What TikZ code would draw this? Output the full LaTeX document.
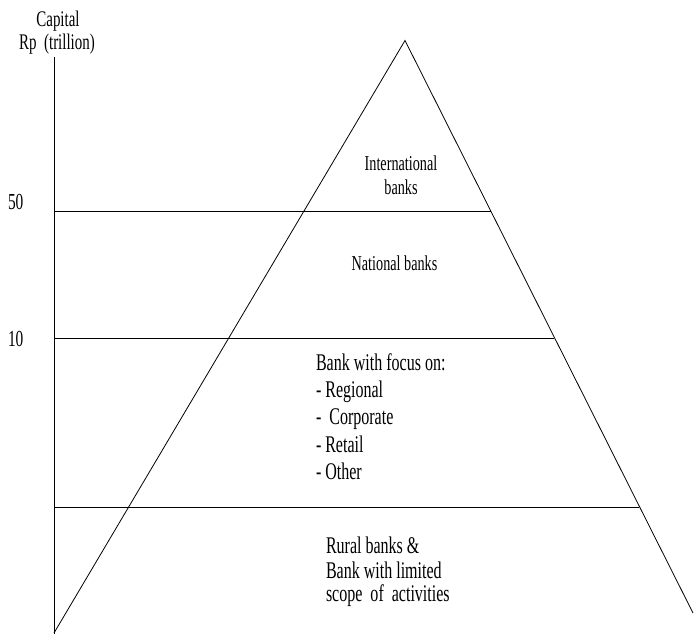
\documentclass[tikz,border=0pt]{standalone}
\usepackage{fontspec}
\newfontfamily\tnr[FakeStretch=0.67]{Liberation Serif}
\begin{document}
\begin{tikzpicture}[x=1bp,y=-1bp,
  lbl/.style={inner sep=0pt,outer sep=0pt},
  axislbl/.style={lbl,font=\tnr\fontsize{22.4}{24}\selectfont},
  toplbl/.style={lbl,font=\tnr\fontsize{21.3}{24}\selectfont},
  lowlbl/.style={lbl,font=\tnr\fontsize{24}{26}\selectfont},
  numlbl/.style={lbl,font=\tnr\fontsize{23}{24}\selectfont},
  thinline/.style={line width=0.8bp,draw=black},
  thickline/.style={line width=1.4bp,draw=black}]
\useasboundingbox (0,0) rectangle (694,634);
% key points
\coordinate (axtop) at (54,57);
\coordinate (axbot) at (54,634);
\coordinate (apex) at (405,40.5);
\coordinate (bl) at (54,633);
\coordinate (br) at (693,613);
\coordinate (l50) at (54,211.5);
\coordinate (r50) at (490.5,211.5);
\coordinate (l10) at (54,338);
\coordinate (r10) at (553.8,338);
\coordinate (l0) at (54,507.5);
\coordinate (r0) at (638.5,507.5);
% axis and pyramid
\draw[thinline] (axtop) -- (axbot);
\draw[thinline] (bl) -- (apex) -- (br);
\draw[thinline] (l50) -- (r50);
\draw[thinline] (l10) -- (r10);
\draw[thickline] (l0) -- (r0);
% axis labels
\node[axislbl,anchor=base] (cap) at (58,26.7) {Capital};
\node[axislbl,anchor=base] (rp) at (57,50) {Rp\ \ (trillion)};
\node[numlbl,anchor=base west] (n50) at (8,209.5) {50};
\node[numlbl,anchor=base west] (n10) at (8,346.5) {10};
% tier labels
\node[toplbl,anchor=base] (intl1) at (401,170.7) {International};
\node[toplbl,anchor=base] (intl2) at (401,195) {banks};
\node[toplbl,anchor=base] (natl) at (394.5,270.7) {National banks};
\node[lowlbl,anchor=base west] (f1) at (316,370) {Bank with focus on:};
\node[lowlbl,anchor=base west] (f2) at (316,397) {-\ Regional};
\node[lowlbl,anchor=base west] (f3) at (316,424) {-\ \ Corporate};
\node[lowlbl,anchor=base west] (f4) at (316,452) {-\,Retail};
\node[lowlbl,anchor=base west] (f5) at (316,479) {-\ Other};
\node[lowlbl,anchor=base west] (r1) at (326,553) {Rural banks \&};
\node[lowlbl,anchor=base west] (r2) at (326,578.5) {Bank with limited};
\node[lowlbl,anchor=base west] (r3) at (326,601) {scope\ \ of\ \ activities};
\end{tikzpicture}
\end{document}
